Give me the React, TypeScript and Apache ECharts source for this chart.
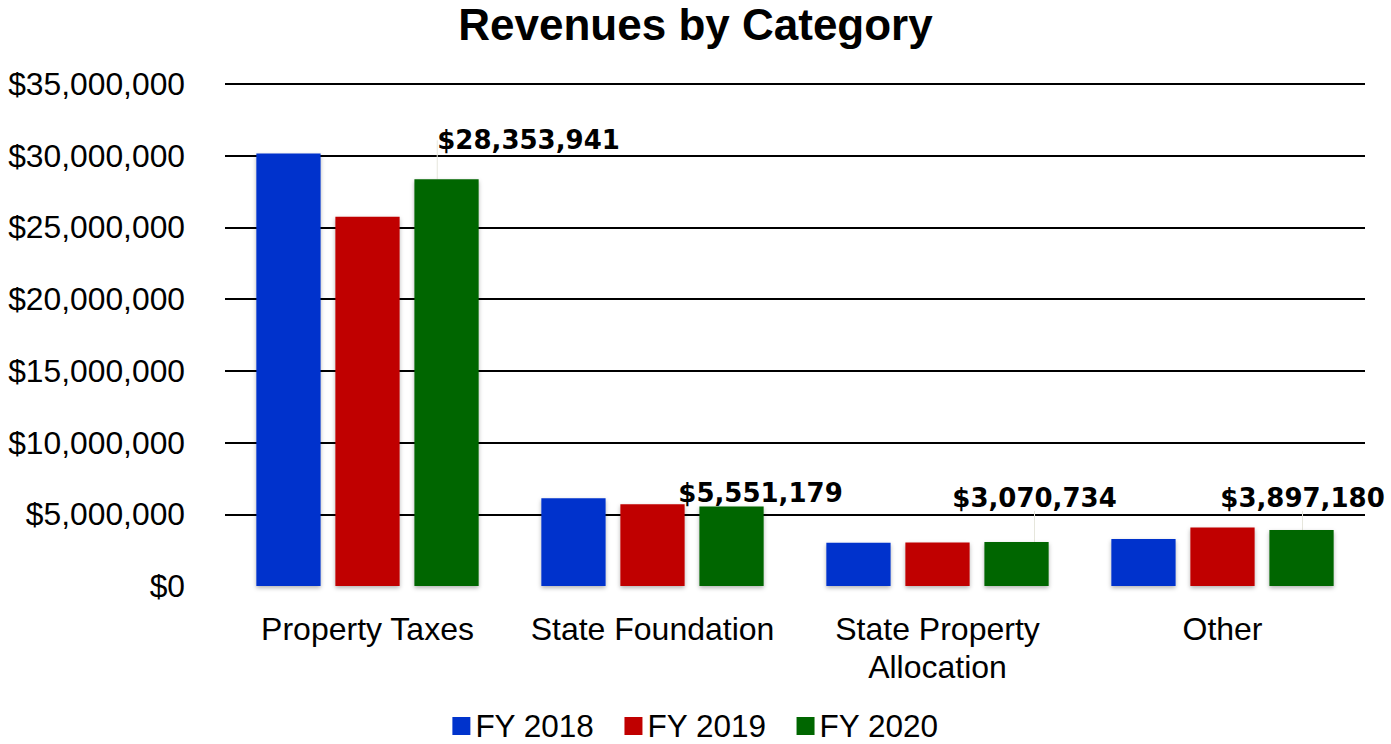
import React, { useEffect, useRef } from "react";
import * as echarts from "echarts";

const categories = ["Property Taxes", "State Foundation", "State Property\nAllocation", "Other"];
const seriesNames = ["FY 2018", "FY 2019", "FY 2020"];
const fy2018 = [30150000, 6110000, 3020000, 3280000];
const fy2019 = [25750000, 5700000, 3040000, 4070000];
const fy2020 = [28353941, 5551179, 3070734, 3897180];
const yTicks = { min: 0, max: 35000000, interval: 5000000 };

const colors = ["#0033CC", "#C00000", "#006600"];
const labelOffsets = [
  [82, -21],
  [29, 5],
  [18, -26],
  [1, -14],
];

const fmt = (v: number) => "$" + Math.round(v).toLocaleString("en-US");

export default function App() {
  const ref = useRef<HTMLDivElement>(null);
  useEffect(() => {
    if (!ref.current) return;
    const chart = echarts.init(ref.current, null, { renderer: "svg" });
    const data = [fy2018, fy2019, fy2020];
    chart.setOption({
      animation: false,
      backgroundColor: "#ffffff",
      title: {
        text: "Revenues by Category",
        left: "center",
        top: -3,
        textStyle: { fontFamily: "Liberation Sans", fontSize: 44, fontWeight: "bold", color: "#000" },
      },
      legend: {
        bottom: 2,
        padding: 0,
        left: "center",
        icon: "rect",
        itemWidth: 18,
        itemHeight: 18,
        itemGap: 30,
        textStyle: { fontFamily: "Liberation Sans", fontSize: 31.5, lineHeight: 32, color: "#000" },
        data: seriesNames,
      },
      grid: { left: 225, right: 26, top: 84, bottom: 158, containLabel: false },
      xAxis: {
        type: "category",
        data: categories,
        axisLine: { show: false },
        axisTick: { show: false },
        axisLabel: {
          margin: 24,
          fontFamily: "Liberation Sans",
          fontSize: 32,
          color: "#000",
          lineHeight: 38,
          interval: 0,
        },
      },
      yAxis: {
        type: "value",
        min: yTicks.min,
        max: yTicks.max,
        interval: yTicks.interval,
        axisLine: { show: false },
        axisTick: { show: false },
        splitLine: { show: true, showMinLine: false, lineStyle: { color: "#000", width: 2 } },
        axisLabel: {
          margin: 40,
          fontFamily: "Liberation Sans",
          fontSize: 31.8,
          color: "#000",
          formatter: (v: number) => fmt(v),
        },
      },
      series: seriesNames.map((name, i) => ({
        name,
        type: "bar",
        data: data[i],
        barGap: "23%",
        barCategoryGap: "22%",
        itemStyle: {
          color: colors[i],
          shadowBlur: 4,
          shadowColor: "rgba(0,0,0,0.3)",
          shadowOffsetY: 2,
        },
        label: i === 2
          ? {
              show: true,
              position: "top",
              distance: 5,
              fontFamily: "DejaVu Sans",
              fontWeight: "bold",
              fontSize: 26,
              color: "#000",
              formatter: (p: any) => fmt(p.value),
            }
          : { show: false },
        labelLine: i === 2 ? { show: true, lineStyle: { color: "#e6e6dc", width: 1 } } : undefined,
        labelLayout: i === 2
          ? (p: any) => ({ dx: labelOffsets[p.dataIndex][0], dy: labelOffsets[p.dataIndex][1] })
          : undefined,
      })),
    });
    return () => chart.dispose();
  }, []);
  return (
    <div
      ref={ref}
      style={{ position: "absolute", left: 0, top: 0, width: 1391, height: 744 }}
    />
  );
}
